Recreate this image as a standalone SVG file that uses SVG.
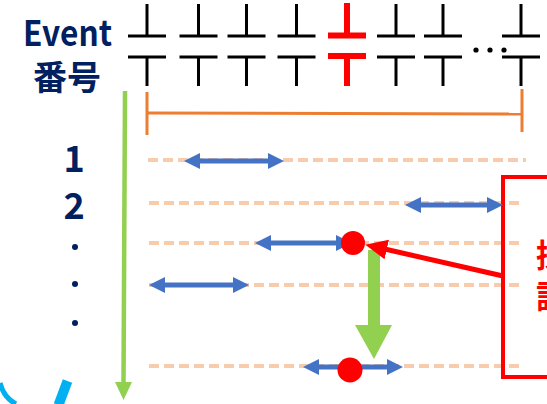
<svg xmlns="http://www.w3.org/2000/svg" width="547" height="404" viewBox="0 0 547 404">
  <style>
    .lbl { font-family: "Noto Sans CJK JP", "Liberation Sans", sans-serif; font-weight: bold; fill: #002060; }
    .cap { stroke: #000; stroke-width: 3; fill: none; }
    .capRed { stroke: #FF0000; stroke-width: 6; fill: none; }
    .track { stroke: #F8CBAD; stroke-width: 4; stroke-dasharray: 10 5; fill: none; }
    .span { stroke: #4472C4; stroke-width: 5; fill: none; marker-start: url(#blueHead); marker-end: url(#blueHead); }
    .hit { fill: #FF0000; }
    .note { font-family: "Noto Sans CJK JP", sans-serif; font-weight: bold; font-size: 32px; fill: #FF0000; }
  </style>
  <defs>
    <!-- capacitor glyph: two plates with leads -->
    <g id="capGlyph" class="cap">
      <line x1="0" y1="4" x2="0" y2="36"/>
      <line x1="-19" y1="36" x2="19" y2="36"/>
      <line x1="-19" y1="57" x2="19" y2="57"/>
      <line x1="0" y1="57" x2="0" y2="86"/>
    </g>
    <marker id="blueHead" markerUnits="userSpaceOnUse" markerWidth="16" markerHeight="16" refX="8" refY="8" orient="auto-start-reverse">
      <path d="M0,0 L16,8 L0,16 z" fill="#4472C4"/>
    </marker>
    <marker id="redHead" markerUnits="userSpaceOnUse" markerWidth="22" markerHeight="20" refX="10" refY="10" orient="auto">
      <path d="M0,0 L22,10 L0,20 z" fill="#FF0000"/>
    </marker>
  </defs>

  <!-- axis labels -->
  <g id="label-event">
    <text class="lbl" x="23" y="46" font-size="35" textLength="89" lengthAdjust="spacingAndGlyphs">Event</text>
    <text class="lbl" x="67" y="90" font-size="34" text-anchor="middle">番号</text>
  </g>
  <g id="label-rows">
    <text class="lbl" x="74" y="172" font-size="36" text-anchor="middle">1</text>
    <text class="lbl" x="74" y="219" font-size="36" text-anchor="middle">2</text>
    <circle cx="75" cy="247" r="3" fill="#002060"/>
    <circle cx="75" cy="284" r="3" fill="#002060"/>
    <circle cx="75" cy="323" r="3" fill="#002060"/>
  </g>

  <!-- row of capacitors -->
  <g id="cap1" transform="translate(147,0)"><use href="#capGlyph"/></g>
  <g id="cap2" transform="translate(198.5,0)"><use href="#capGlyph"/></g>
  <g id="cap3" transform="translate(246.5,0)"><use href="#capGlyph"/></g>
  <g id="cap4" transform="translate(296.5,0)"><use href="#capGlyph"/></g>
  <g id="cap5" class="capRed" transform="translate(347,0)">
    <line x1="0" y1="3" x2="0" y2="35"/>
    <line x1="-19" y1="35.5" x2="19" y2="35.5"/>
    <line x1="-19" y1="56" x2="19" y2="56"/>
    <line x1="0" y1="56" x2="0" y2="86"/>
  </g>
  <g id="cap6" transform="translate(396,0)"><use href="#capGlyph"/></g>
  <g id="cap7" transform="translate(443,0)"><use href="#capGlyph"/></g>
  <g id="ellipsis" fill="#000">
    <circle cx="476" cy="50" r="2.6"/>
    <circle cx="490" cy="50" r="2.6"/>
    <circle cx="504" cy="50" r="2.6"/>
  </g>
  <g id="capN" transform="translate(521,0)"><use href="#capGlyph"/></g>

  <!-- range bracket -->
  <g id="range" stroke="#ED7D31" stroke-width="3" fill="none">
    <line x1="147" y1="92" x2="147" y2="135"/>
    <line x1="147" y1="113" x2="522" y2="114"/>
    <line x1="522" y1="89" x2="522" y2="132"/>
  </g>

  <!-- dashed event tracks -->
  <g id="tracks">
    <line class="track" x1="148" y1="160" x2="526" y2="160"/>
    <line class="track" x1="149" y1="203" x2="520" y2="203"/>
    <line class="track" x1="149" y1="243" x2="520" y2="243"/>
    <line class="track" x1="149" y1="285" x2="520" y2="285"/>
    <line class="track" x1="149" y1="366" x2="520" y2="366"/>
  </g>

  <!-- highlight box -->
  <g id="note-box">
    <rect x="503" y="177" width="70" height="200" fill="none" stroke="#FF0000" stroke-width="4"/>
    <text class="note" x="536" y="267">探</text>
    <text class="note" x="536" y="308">該</text>
  </g>

  <g id="connectors">
    <!-- event order axis -->
    <line x1="125" y1="91" x2="123.5" y2="384" stroke="#92D050" stroke-width="4.5"/>
    <polygon points="115,382 132,382 123.5,400" fill="#92D050"/>
    <!-- spans on each track -->
    <line class="span" x1="192" y1="161" x2="276" y2="161"/>
    <line class="span" x1="413" y1="205" x2="495" y2="205"/>
    <line class="span" x1="263" y1="243" x2="344" y2="243"/>
    <line class="span" x1="157" y1="285" x2="241" y2="285"/>
    <line class="span" x1="311" y1="367" x2="395" y2="367"/>
    <!-- shift down -->
    <polygon points="368,250 380,250 380,325 392,325 374,359 355,325 368,325" fill="#92D050"/>
    <!-- pointer from box -->
    <line x1="503" y1="276" x2="377" y2="247.3" stroke="#FF0000" stroke-width="5" marker-end="url(#redHead)"/>
  </g>

  <g id="hit-points">
    <circle class="hit" cx="353" cy="243" r="12"/>
    <circle class="hit" cx="350" cy="370" r="12.5"/>
  </g>

  <!-- ring fragment at the corner -->
  <g id="ring" stroke="#00B0F0" fill="none">
    <path d="M0,383 Q4,398 16,404" stroke-width="5"/>
    <line x1="67.5" y1="381" x2="58.5" y2="405" stroke-width="10"/>
  </g>
</svg>
